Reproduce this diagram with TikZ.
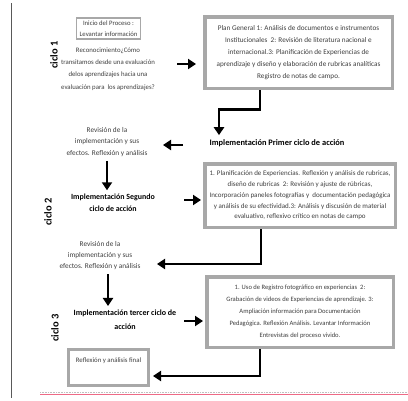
\documentclass[tikz,border=0pt]{standalone}
\usepackage{fontspec}
\setmainfont{Carlito}
\usetikzlibrary{arrows.meta}
\definecolor{txtgray}{HTML}{3F3F3F}
\definecolor{boxgray}{HTML}{A8A8A8}
\definecolor{pinkline}{HTML}{EE6A86}
\tikzset{
  small/.style={font=\fontsize{6.8}{11.5}\selectfont, text=txtgray, align=center, inner sep=1pt},
  boldtxt/.style={font=\fontsize{7.9}{11.5}\selectfont\bfseries, text=black, align=center, inner sep=1pt},
  bigbox/.style={draw=boxgray, line width=3.5pt, fill=white, align=center, inner sep=2pt,
     font=\fontsize{6.8}{11.5}\selectfont, text=txtgray},
  smallbox/.style={draw=boxgray, fill=white, align=center, inner sep=1pt,
     font=\fontsize{6.8}{10.5}\selectfont, text=txtgray},
  ciclo/.style={font=\fontsize{10.5}{11}\selectfont\bfseries, rotate=90, inner sep=0pt},
  fat/.style={line width=2.3pt, -{Triangle[length=8pt,width=10pt]}}
}
\begin{document}
\begin{tikzpicture}[x=1pt,y=-1pt]
\useasboundingbox (0,0) rectangle (408,400);

% frame lines
\coordinate (lt) at (11,3);
\coordinate (lb) at (11,398);
\draw[black!65, line width=0.8pt] (lt) -- (lb);
\coordinate (bl) at (40,392);
\coordinate (br) at (408,392);
\draw[gray!50, densely dotted, line width=0.6pt] (bl) -- (br);
\draw[pinkline, line width=0.8pt] ([yshift=-2.4pt]bl) -- ([yshift=-2.4pt]br);

% cycle labels
\node[ciclo] (c1) at (54,55) {ciclo 1};
\node[ciclo] (c2) at (48,212) {ciclo 2};
\node[ciclo] (c3) at (55,328) {ciclo 3};

% cycle 1
\node[smallbox, line width=1.3pt, minimum width=64pt, minimum height=21pt, font=\fontsize{6.7}{10.5}\selectfont] (inicio) at (108.5,28.5)
  {Inicio del Proceso :\\Levantar información};
\node[small, font=\fontsize{6.8}{12.3}\selectfont] (recon) at (108,69)
  {Reconocimiento¿Cómo\\transitamos desde una evaluación\\delos aprendizajes hacia una\\evaluación para\ \ los aprendizajes?};
\node[bigbox, minimum width=187.5pt, minimum height=71.5pt, font=\fontsize{7.2}{12}\selectfont] (plan) at (298.5,52.5)
  {Plan General 1: Análisis de documentos e instrumentos\\Institucionales\ \ 2: Revisión de literatura nacional e\\internacional.3: Planificación de Experiencias de\\aprendizaje y diseño y elaboración de rubricas analíticas\\Registro de notas de campo.};
\node[boldtxt, font=\fontsize{8.4}{11}\selectfont\bfseries] (impl1) at (277,143)
  {Implementación Primer ciclo de acción};
\node[small, font=\fontsize{7.3}{11.5}\selectfont] (rev1) at (107,142)
  {Revisión de la\\implementación y sus\\efectos. Reflexión y análisis};

% cycle 2
\node[boldtxt] (impl2) at (113,203) {Implementación Segundo\\ciclo de acción};
\node[bigbox, minimum width=190.5pt, minimum height=63.5pt, font=\fontsize{7}{10.8}\selectfont, inner sep=0pt] (box2) at (300,195.5)
  {1. Planificación de Experiencias. Reflexión y análisis de rubricas,\\diseño de rubricas\ \ 2: Revisión y ajuste de rúbricas,\\Incorporación paneles fotografías y\ \ documentación pedagógica\\y análisis de su efectividad.3: Análisis y discusión de material\\evaluativo, reflexivo crítico en notas de campo};
\node[small, font=\fontsize{7.3}{11}\selectfont] (rev2) at (100,256)
  {Revisión de la\\implementación y sus\\efectos. Reflexión y análisis};

% cycle 3
\node[boldtxt, font=\fontsize{8}{14}\selectfont\bfseries] (impl3) at (125,320)
  {Implementación tercer ciclo de\\acción};
\node[bigbox, minimum width=186.5pt, minimum height=70.5pt, font=\fontsize{6.6}{12}\selectfont] (box3) at (300,312)
  {1. Uso de Registro fotográfico en experiencias\ \ 2:\\Grabación de videos de Experiencias de aprendizaje. 3:\\Ampliación información para Documentación\\Pedagógica. Reflexión Análisis. Levantar Información\\Entrevistas del proceso vivido.};
\node[smallbox, line width=2.2pt, minimum width=80pt, minimum height=36pt, font=\fontsize{6.8}{15}\selectfont] (final) at (108.5,367.5)
  {Reflexión y análisis final\\\mbox{}};

% connectors
\draw[fat] ([xshift=-26pt,yshift=-11.5pt]plan.west) -- ++(19,0);
\draw[fat] ([xshift=-38.5pt]plan.south) -- ++(0,19.5) -| ([xshift=-58pt,yshift=3pt]impl1.north);
\draw[fat] ([xshift=-94pt,yshift=-2pt]impl1.center) -- ++(-20,0);
\draw[fat, shorten <=3pt, shorten >=3pt] (rev1.south) -- (rev1.south |- impl2.north);
\draw[fat] ([xshift=-19pt,yshift=-4.5pt]box2.west) -- ++(17,0);
\draw[fat] ([xshift=-39pt]box2.south) -- ++(0,35) -- ++(-104,0);
\draw[fat, shorten <=3pt, shorten >=3pt] ([xshift=8pt]rev2.south) -- ([xshift=8pt]rev2.south |- impl3.north);
\draw[fat] ([xshift=-21pt,yshift=-9pt]box3.west) -- ++(19,0);
\draw[fat] ([xshift=-40pt]box3.south) -- ++(0,27) -- ++(-107,0);
\end{tikzpicture}
\end{document}
